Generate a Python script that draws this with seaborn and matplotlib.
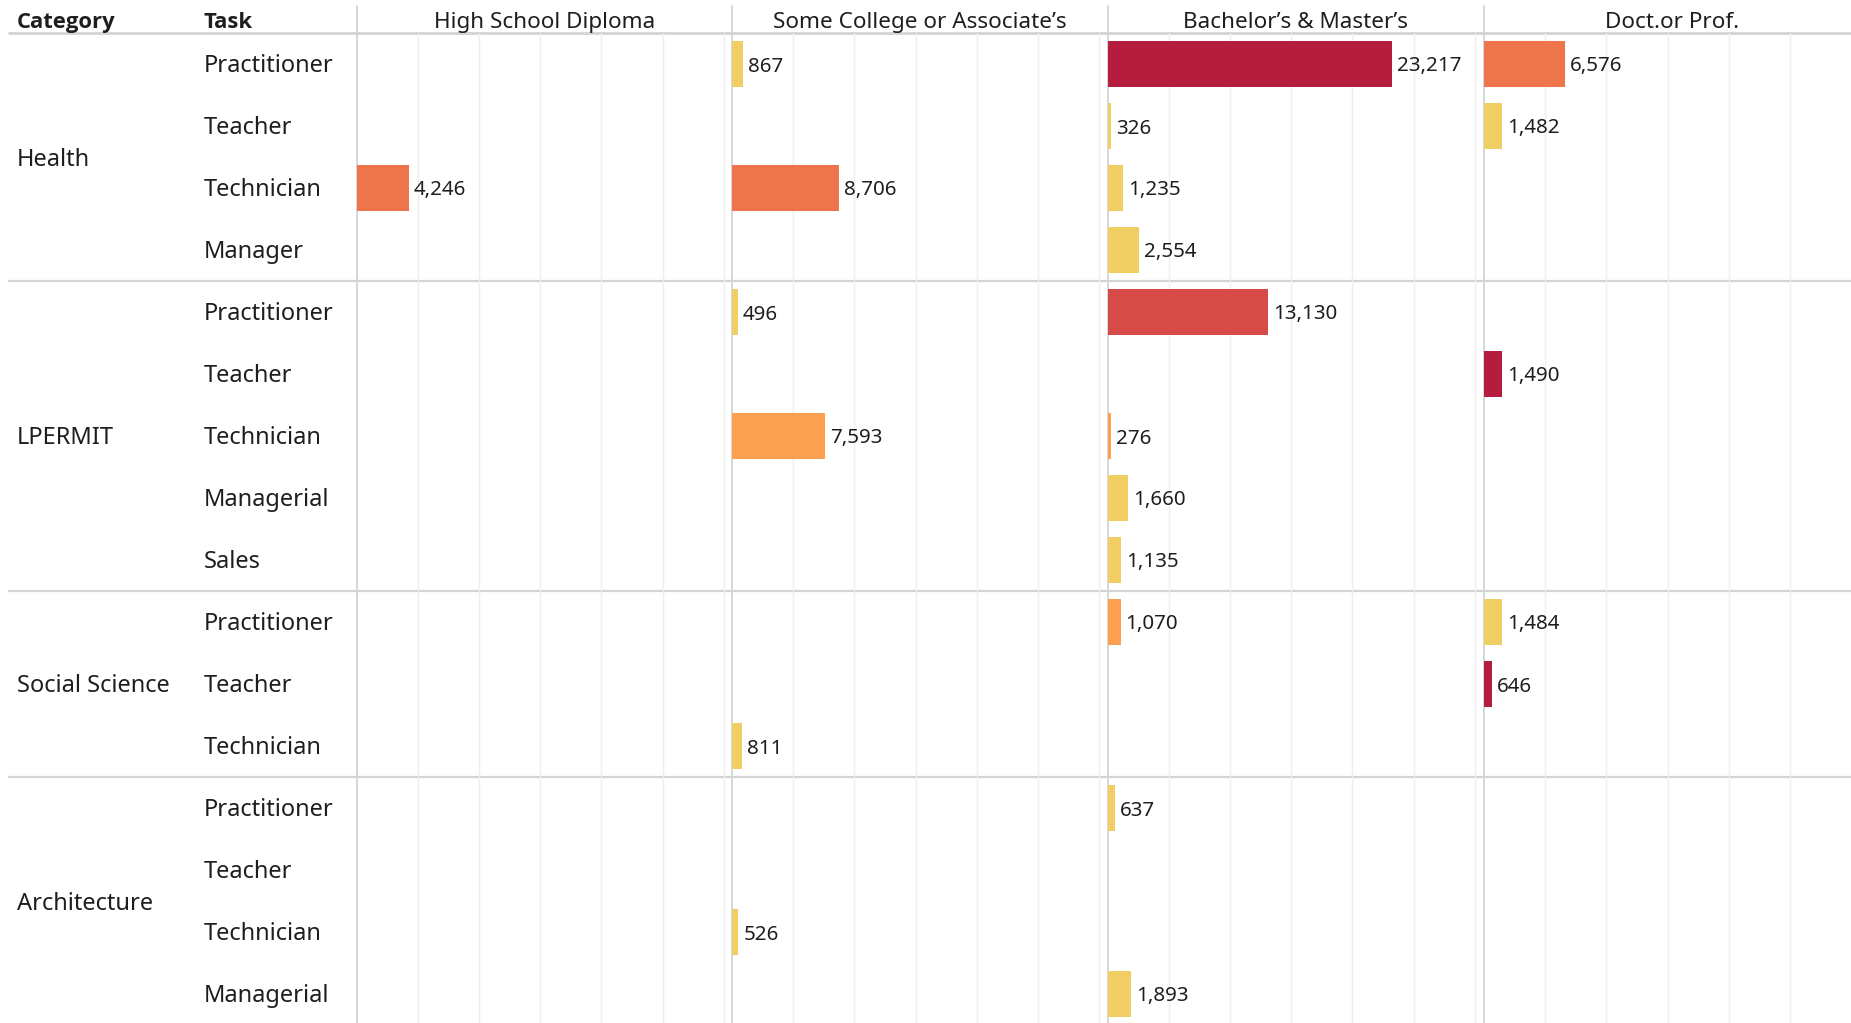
import matplotlib
matplotlib.use("Agg")
import matplotlib.pyplot as plt
from matplotlib import font_manager
import pandas as pd
import seaborn as sns

# ---- data -------------------------------------------------------------
categories = ["Health", "LPERMIT", "Social Science", "Architecture"]
category_tasks = [
    ["Practitioner", "Teacher", "Technician", "Manager"],
    ["Practitioner", "Teacher", "Technician", "Managerial", "Sales"],
    ["Practitioner", "Teacher", "Technician"],
    ["Practitioner", "Teacher", "Technician", "Managerial"],
]
degrees = [
    "High School Diploma",
    "Some College or Associate\u2019s",
    "Bachelor\u2019s & Master\u2019s",
    "Doct.or Prof.",
]

bar_category = [
    "Health", "Health", "Health",
    "Health", "Health",
    "Health", "Health", "Health",
    "Health",
    "LPERMIT", "LPERMIT",
    "LPERMIT",
    "LPERMIT", "LPERMIT",
    "LPERMIT",
    "LPERMIT",
    "Social Science", "Social Science",
    "Social Science",
    "Social Science",
    "Architecture",
    "Architecture",
    "Architecture",
]
bar_task = [
    "Practitioner", "Practitioner", "Practitioner",
    "Teacher", "Teacher",
    "Technician", "Technician", "Technician",
    "Manager",
    "Practitioner", "Practitioner",
    "Teacher",
    "Technician", "Technician",
    "Managerial",
    "Sales",
    "Practitioner", "Practitioner",
    "Teacher",
    "Technician",
    "Practitioner",
    "Technician",
    "Managerial",
]
bar_degree = [1, 2, 3,
              2, 3,
              0, 1, 2,
              2,
              1, 2,
              3,
              1, 2,
              2,
              2,
              2, 3,
              3,
              1,
              2,
              1,
              2]
bar_count = [867, 23217, 6576,
             326, 1482,
             4246, 8706, 1235,
             2554,
             496, 13130,
             1490,
             7593, 276,
             1660,
             1135,
             1070, 1484,
             646,
             811,
             637,
             526,
             1893]
# colour tier of each bar (0 = lowest ... 4 = highest)
bar_tier = [0, 4, 2,
            0, 0,
            2, 2, 0,
            0,
            0, 3,
            4,
            1, 1,
            0,
            0,
            1, 0,
            4,
            0,
            0,
            0,
            0]

tier_colors = ["#F1CE63", "#FBA050", "#EE744B", "#D64A48", "#B61C3E"]

# ---- styling ----------------------------------------------------------
sns.set_theme(style="white")
available = {f.name for f in font_manager.fontManager.ttflist}
base_font = "Noto Sans" if "Noto Sans" in available else "DejaVu Sans"
bold_font = "Open Sans" if "Open Sans" in available else "DejaVu Sans"
plt.rcParams["font.family"] = [base_font, "DejaVu Sans"]

TEXT = "#1E1E1E"
DIVIDER = "#D4D4D4"
GRID = "#EFEFEF"

W, H = 1851, 1023
fig = plt.figure(figsize=(W / 100, H / 100), dpi=100)
fig.patch.set_facecolor("white")

row_keys = [f"{c}|{t}" for c, tl in zip(categories, category_tasks) for t in tl]
n_rows = len(row_keys)

df = pd.DataFrame({
    "Row": [f"{c}|{t}" for c, t in zip(bar_category, bar_task)],
    "Degree": [degrees[i] for i in bar_degree],
    "Count": bar_count,
    "Tier": [str(t) for t in bar_tier],
})
tier_order = [str(i) for i in range(len(tier_colors))]
palette = dict(zip(tier_order, tier_colors))

# layout in pixels
header_h = 33
row_h = 62
panel_left = [356.5, 732, 1107.5, 1484]
panel_w = 376
x_max = 30700
units_per_px = x_max / panel_w
text_dy = 2.5  # nudges labels onto the visual centre of each row

# background layer: header, separators, text
bg = fig.add_axes([0, 0, 1, 1], zorder=0)
bg.set_xlim(0, W)
bg.set_ylim(H, 0)
bg.axis("off")

# header
bg.text(17, 20 + text_dy, "Category", fontsize=15.8, fontweight="bold",
        family=[bold_font, "DejaVu Sans"], color=TEXT, va="center", ha="left")
bg.text(203, 20 + text_dy, "Task", fontsize=15.8, fontweight="bold",
        family=[bold_font, "DejaVu Sans"], color=TEXT, va="center", ha="left")
bg.plot([8, W], [header_h, header_h], color=DIVIDER, lw=2, solid_capstyle="butt")

# category / task labels and group separators
row = 0
for c, tl in zip(categories, category_tasks):
    top = header_h + row * row_h
    mid = top + len(tl) * row_h / 2
    bg.text(17, mid + text_dy, c, fontsize=17, color=TEXT, va="center", ha="left")
    for j, t in enumerate(tl):
        bg.text(204, top + (j + 0.5) * row_h + text_dy, t, fontsize=17,
                color=TEXT, va="center", ha="left")
    row += len(tl)
    if row < n_rows:
        y = header_h + row * row_h
        bg.plot([8, W], [y, y], color=DIVIDER, lw=1.6, solid_capstyle="butt")

# panel titles and vertical dividers
for d, left in zip(degrees, panel_left):
    bg.text(left + panel_w / 2, 20 + text_dy, d, fontsize=16.2, color=TEXT,
            va="center", ha="center")
    bg.plot([left, left], [6, H], color=DIVIDER, lw=1.3)

# one bar panel per degree level
axes_bottom = (H - (header_h + n_rows * row_h)) / H
axes_height = n_rows * row_h / H
for d, left in zip(degrees, panel_left):
    width_px = min(panel_w, W - left)
    ax = fig.add_axes([left / W, axes_bottom, width_px / W, axes_height], zorder=1)
    ax.patch.set_alpha(0)
    sub = df[df["Degree"] == d]
    sns.barplot(data=sub, x="Count", y="Row", hue="Tier", order=row_keys,
                hue_order=tier_order, palette=palette, dodge=False,
                orient="h", width=0.75, errorbar=None, legend=False,
                linewidth=0, saturation=1, ax=ax)
    for cont in ax.containers:
        anns = ax.bar_label(cont, fmt="{:,.0f}", padding=3.6, fontsize=14.8,
                            color=TEXT)
        for a in anns:
            a.xyann = (3.6, -text_dy * 0.72)
    ax.set_xlim(0, width_px * units_per_px)
    ax.set_ylim(n_rows - 0.5, -0.5)
    ax.set_xticks(range(5000, int(width_px * units_per_px) + 1, 5000))
    ax.grid(axis="x", color=GRID, lw=1)
    ax.grid(axis="y", visible=False)
    ax.set_axisbelow(True)
    ax.tick_params(length=0, labelbottom=False, labelleft=False)
    ax.set_xlabel("")
    ax.set_ylabel("")
    for s in ax.spines.values():
        s.set_visible(False)

fig.savefig("out.png", dpi=100, facecolor="white")
